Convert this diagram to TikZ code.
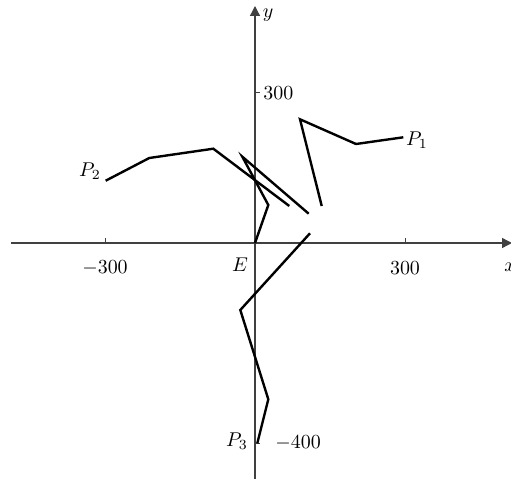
\documentclass[tikz,border=0pt]{standalone}
\usetikzlibrary{arrows.meta}
\begin{document}
\begin{tikzpicture}[x=0.5bp,y=-0.5bp,
  axis/.style={line width=0.65bp,draw=black!75,-{Triangle[length=5bp,width=5bp]}},
  tick/.style={line width=0.5bp,draw=black!75},
  curve/.style={line width=1.2bp,line join=miter,line cap=butt},
  lab/.style={inner sep=0pt}]
\useasboundingbox (0,0) rectangle (511,479);
% axes
\coordinate (xs) at (11,243);
\coordinate (xe) at (512,243);
\coordinate (ys) at (255,479);
\coordinate (ye) at (255,6);
\draw[axis] (xs) -- (xe);
\draw[axis] (ys) -- (ye);
% ticks
\coordinate (t1) at (105,243); \coordinate (t1e) at (105,238);
\coordinate (t2) at (405,243); \coordinate (t2e) at (405,238);
\coordinate (t3) at (255,93); \coordinate (t3e) at (260,93);
\coordinate (t4) at (255,443); \coordinate (t4e) at (260,443);
\draw[tick] (t1) -- (t1e);
\draw[tick] (t2) -- (t2e);
\draw[tick] (t3) -- (t3e);
\draw[tick] (t4) -- (t4e);
% labels
\node[lab] (lm300) at (105,268) {$-300$};
\node[lab] (l300x) at (405,268) {$300$};
\node[lab,anchor=west] (l300y) at (263,93) {$300$};
\node[lab,anchor=west] (lm400) at (275,443) {$-400$};
\node[lab] (lx) at (510,267) {$x$};
\node[lab] (ly) at (268,15) {$y$};
\node[lab] (lE) at (240,265) {$E$};
\node[lab] (lP1) at (417,140) {$P_1$};
\node[lab] (lP2) at (90,171) {$P_2$};
\node[lab] (lP3) at (237,441) {$P_3$};
% polylines
\coordinate (a0) at (403.3,137.3);
\coordinate (a1) at (356,144);
\coordinate (a2) at (300,119.3);
\coordinate (a3) at (321.7,206);
\draw[curve] (a0) -- (a1) -- (a2) -- (a3);
\coordinate (b0) at (105.7,180.7);
\coordinate (b1) at (149.3,158);
\coordinate (b2) at (213.3,148.7);
\coordinate (b3) at (289.3,206);
\draw[curve] (b0) -- (b1) -- (b2) -- (b3);
\coordinate (c0) at (255,243);
\coordinate (c1) at (268.3,205);
\coordinate (c2) at (242.3,156.7);
\coordinate (c3) at (308.7,213.7);
\draw[curve] (c0) -- (c1) -- (c2) -- (c3);
\coordinate (d0) at (257.3,443.3);
\coordinate (d1) at (268.3,399.3);
\coordinate (d2) at (240.3,310);
\coordinate (d3) at (310,233.3);
\draw[curve] (d0) -- (d1) -- (d2) -- (d3);
\end{tikzpicture}
\end{document}
